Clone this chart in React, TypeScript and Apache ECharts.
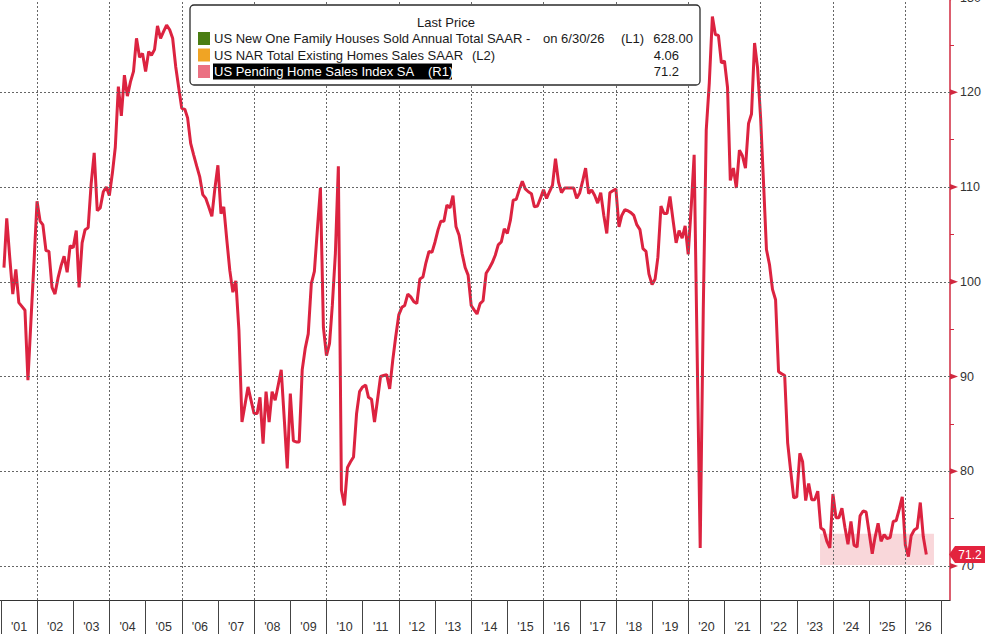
import React, { useEffect, useRef } from 'react';
import * as echarts from 'echarts';

// US Pending Home Sales Index SA, monthly
const pending2001to2005 = [
  101.5, 106.7, 102.5, 98.7, 101.3, 97.8, 97.4, 97.0, 89.6, 96.0, 102.0, 108.5,
  106.4, 106.0, 103.3, 103.2, 99.4, 98.7, 100.4, 101.7, 102.7, 101.0, 103.8, 103.6,
  105.4, 99.4, 104.1, 105.5, 105.7, 110.3, 113.6, 107.5, 107.8, 109.5, 110.0, 109.1,
  111.5, 114.2, 120.6, 117.5, 121.8, 119.6, 121.1, 122.2, 125.7, 123.7, 124.1, 122.2,
  124.3, 123.9, 124.5, 127.0, 125.7, 126.4, 127.1, 126.6, 125.7, 122.7, 120.5, 118.3,
];
const pending2006to2010 = [
  118.2, 117.3, 114.6, 113.4, 112.2, 111.1, 109.2, 108.8, 107.9, 106.9, 109.8, 112.3,
  107.2, 107.9, 104.4, 101.2, 98.9, 100.1, 94.9, 85.2, 87.0, 88.9, 87.5, 86.1,
  86.1, 87.8, 82.9, 88.4, 85.2, 88.4, 87.5, 89.1, 90.7, 85.5, 80.3, 88.2,
  83.2, 83.1, 83.1, 90.7, 93.0, 94.5, 99.8, 101.1, 105.5, 109.9, 95.2, 92.2,
  93.5, 97.5, 103.0, 112.2, 78.0, 76.4, 80.4, 81.0, 81.5, 86.1, 88.4, 88.9,
];
const pending2011to2015 = [
  89.1, 87.8, 87.6, 85.2, 87.6, 90.0, 90.1, 90.2, 88.7, 91.7, 94.2, 96.5,
  97.3, 97.5, 98.7, 98.4, 97.9, 97.7, 100.3, 100.5, 102.0, 103.2, 103.1, 104.2,
  105.5, 106.4, 106.4, 108.1, 107.8, 109.1, 105.8, 104.9, 103.0, 101.5, 100.7, 97.5,
  97.0, 96.6, 97.7, 98.0, 100.9, 101.4, 102.0, 102.8, 103.9, 104.2, 105.6, 105.1,
  106.5, 108.6, 108.7, 109.7, 110.6, 109.8, 109.5, 109.3, 107.9, 108.0, 108.8, 109.7,
];
const pending2016to2020 = [
  108.8, 109.5, 110.2, 113.0, 110.5, 109.4, 109.9, 109.9, 109.9, 109.9, 108.8, 109.4,
  110.7, 112.0, 109.3, 109.7, 109.1, 108.3, 109.4, 107.0, 105.1, 109.4, 109.6, 109.8,
  105.8, 107.0, 107.6, 107.5, 107.3, 107.0, 106.0, 105.5, 103.5, 103.2, 100.8, 99.7,
  100.3, 102.6, 108.0, 107.2, 107.2, 109.0, 106.5, 104.1, 105.4, 104.6, 105.9, 102.9,
  108.0, 113.4, 92.0, 71.9, 97.0, 116.0, 121.0, 128.0, 126.1, 126.0, 123.1, 123.3,
];
const pending2021to2026 = [
  120.5, 110.7, 112.0, 109.9, 113.9, 113.3, 112.0, 116.7, 117.7, 125.2, 122.6, 117.3,
  110.1, 103.4, 101.8, 99.2, 98.1, 90.5, 90.3, 90.1, 83.0, 80.0, 77.2, 77.3,
  81.9, 81.0, 76.9, 78.7, 77.0, 77.0, 77.9, 74.0, 73.8, 72.6, 71.9, 77.6,
  75.1, 75.1, 76.1, 74.1, 72.3, 74.7, 72.2, 72.0, 75.3, 75.8, 75.7, 73.5,
  71.3, 73.0, 74.5, 72.6, 73.3, 72.9, 73.0, 74.7, 74.8, 76.0, 77.3, 72.2,
  71.0, 73.2, 73.8, 74.0, 76.7, 73.1, 71.2,
];

const tickYears = [
  2001, 2002, 2003, 2004, 2005, 2006, 2007, 2008, 2009, 2010, 2011, 2012, 2013, 2014,
  2015, 2016, 2017, 2018, 2019, 2020, 2021, 2022, 2023, 2024, 2025, 2026, 2027,
];
const labelYears = [
  2001, 2002, 2003, 2004, 2005, 2006, 2007, 2008, 2009, 2010, 2011, 2012, 2013, 2014,
  2015, 2016, 2017, 2018, 2019, 2020, 2021, 2022, 2023, 2024, 2025, 2026,
];
const gridYears = [2002, 2004, 2006, 2008, 2010, 2012, 2014, 2016, 2018, 2020, 2022, 2024, 2026];
const yGridValues = [70, 80, 90, 100, 110, 120];
const yLabelValues = [70, 80, 90, 100, 110, 120];
const yTopLabel = 130;
const yTickValues = [70, 75, 80, 85, 90, 95, 100, 105, 110, 115, 120, 125];

const legendTitle = 'Last Price';
const legendNames = [
  'US New One Family Houses Sold Annual Total SAAR -',
  'US NAR Total Existing Homes Sales SAAR',
  'US Pending Home Sales Index SA',
];
const legendAxes = ['(L1)', '(L2)', '(R1)'];
const legendValues = ['628.00', '4.06', '71.2'];
const legendColors = ['#4a7d12', '#f0a424', '#eb7082'];
const legendDateNote = 'on 6/30/26';
const lastValue = 71.2;
const bandLow = 70.1;
const bandHigh = 73.4;

const LINE_RED = '#dc2340';
const AXIS_RED = '#d0283f';
const FONT = '"Liberation Sans", Arial, sans-serif';

export default function App() {
  const ref = useRef<HTMLDivElement>(null);

  useEffect(() => {
    const el = ref.current;
    if (!el) return;
    const chart = echarts.init(el, null, { renderer: 'svg' });

    const values = [
      ...pending2001to2005,
      ...pending2006to2010,
      ...pending2011to2015,
      ...pending2016to2020,
      ...pending2021to2026,
    ];
    const seriesData = values.map((v, i) => [Date.UTC(2001, i + 1, 0), v]);
    const xMin = Date.UTC(2000, 11, 22);
    const xMax = Date.UTC(2027, 2, 27);

    const option: any = {
      animation: false,
      backgroundColor: '#ffffff',
      grid: { left: 0, right: 35, top: 0, bottom: 34, containLabel: false },
      xAxis: {
        type: 'value',
        min: xMin,
        max: xMax,
        axisLine: { show: true, lineStyle: { color: '#333', width: 1 } },
        axisTick: {
          show: true,
          customValues: tickYears.map((y) => Date.UTC(y, 0, 1)),
          length: 34,
          lineStyle: { color: '#444', width: 1 },
        },
        axisLabel: {
          show: true,
          customValues: labelYears.map((y) => Date.UTC(y, 6, 2)),
          formatter: (v: number) => "'" + String(new Date(v).getUTCFullYear()).slice(2),
          color: '#333',
          fontFamily: FONT,
          fontSize: 12.5,
          margin: 20,
        },
        splitLine: { show: false },
      },
      yAxis: {
        type: 'value',
        position: 'right',
        min: 66.41,
        max: 129.74,
        axisLine: { show: true, lineStyle: { color: AXIS_RED, width: 1.5 } },
        axisTick: {
          show: true,
          customValues: yTickValues,
          length: 4,
          lineStyle: { color: AXIS_RED, width: 1 },
        },
        axisLabel: {
          show: true,
          customValues: yLabelValues,
          color: '#333',
          fontFamily: FONT,
          fontSize: 12.5,
          margin: 10,
        },
        splitLine: { show: false },
      },
      series: [
        {
          type: 'line',
          data: seriesData,
          z: 1,
          silent: true,
          showSymbol: false,
          symbol: 'none',
          lineStyle: { opacity: 0 },
          markLine: {
            silent: true,
            symbol: 'none',
            label: { show: false },
            emphasis: { disabled: true },
            lineStyle: { type: [2, 2], color: '#666', width: 1 },
            data: [
              ...gridYears.map((y) => ({ xAxis: Date.UTC(y, 0, 1) })),
              ...yGridValues.map((v) => ({ yAxis: v })),
            ],
          },
          markArea: {
            silent: true,
            itemStyle: { color: '#f9d7da' },
            emphasis: { disabled: true },
            data: [
              [
                { xAxis: Date.UTC(2023, 7, 23), yAxis: bandLow },
                { xAxis: Date.UTC(2026, 9, 16), yAxis: bandHigh },
              ],
            ],
          },
        },
        {
          type: 'line',
          name: legendNames[2],
          data: seriesData,
          z: 3,
          showSymbol: false,
          symbol: 'none',
          lineStyle: { color: LINE_RED, width: 3 },
        },
      ],
    };

    chart.setOption(option);

    const ax = chart.convertToPixel({ xAxisIndex: 0 }, xMax) as number;
    const py = (v: number) => chart.convertToPixel({ yAxisIndex: 0 }, v) as number;

    const elements: any[] = [];

    [...yLabelValues, yTopLabel].forEach((v) => {
      const y = py(v);
      elements.push({
        type: 'polygon',
        z: 100,
        silent: true,
        shape: { points: [[ax, y - 3], [ax + 8, y], [ax, y + 3]] },
        style: { fill: AXIS_RED },
      });
    });
    // top label, partly outside the picture as in the original
    elements.push({
      type: 'text',
      z: 100,
      silent: true,
      style: {
        text: String(yTopLabel),
        x: ax + 10,
        y: py(yTopLabel),
        fill: '#333',
        font: '12.5px ' + FONT,
        textAlign: 'left',
        textVerticalAlign: 'middle',
      },
    });

    const yl = py(lastValue);
    elements.push({
      type: 'polygon',
      z: 101,
      silent: true,
      shape: {
        points: [[ax - 1, yl], [ax + 5, yl - 8.5], [985, yl - 8.5], [985, yl + 8.5], [ax + 5, yl + 8.5]],
      },
      style: { fill: '#e3233e' },
    });
    elements.push({
      type: 'text',
      z: 102,
      silent: true,
      style: {
        text: String(lastValue),
        x: (ax + 5 + 985) / 2,
        y: yl,
        fill: '#ffffff',
        font: '12px ' + FONT,
        textAlign: 'center',
        textVerticalAlign: 'middle',
      },
    });

    const lx = 190;
    const ly = 5;
    const lw = 510;
    const lh = 80;
    elements.push({
      type: 'rect',
      z: 100,
      silent: true,
      shape: { x: lx, y: ly, width: lw, height: lh, r: 4 },
      style: { fill: '#ffffff', stroke: '#2b2b2b', lineWidth: 1.3 },
    });
    const txt = (text: string, x: number, y: number, align: string, fill = '#1a1a1a', z = 102) => ({
      type: 'text',
      z,
      silent: true,
      style: {
        text,
        x,
        y,
        fill,
        font: '13px ' + FONT,
        textAlign: align,
        textVerticalAlign: 'middle',
      },
    });
    elements.push(txt(legendTitle, 446, 22, 'center'));
    const rowY = [38.5, 55, 71.5];
    legendNames.forEach((name, i) => {
      elements.push({
        type: 'rect',
        z: 101,
        silent: true,
        shape: { x: 198, y: rowY[i] - 6.5, width: 12, height: 13 },
        style: { fill: legendColors[i] },
      });
    });
    elements.push({
      type: 'rect',
      z: 101,
      silent: true,
      shape: { x: 213, y: rowY[2] - 8, width: 239, height: 16 },
      style: { fill: '#000000' },
    });
    elements.push(txt(legendNames[0], 214, rowY[0], 'left'));
    elements.push(txt(legendDateNote, 543, rowY[0], 'left'));
    elements.push(txt(legendAxes[0], 621, rowY[0], 'left'));
    elements.push(txt(legendValues[0], 693, rowY[0], 'right'));
    elements.push(txt(legendNames[1], 214, rowY[1], 'left'));
    elements.push(txt(legendAxes[1], 472, rowY[1], 'left'));
    elements.push(txt(legendValues[1], 679, rowY[1], 'right'));
    elements.push(txt(legendNames[2], 214, rowY[2], 'left', '#ffffff'));
    elements.push(txt(legendAxes[2], 428, rowY[2], 'left', '#ffffff'));
    elements.push(txt(legendValues[2], 679, rowY[2], 'right'));

    chart.setOption({ graphic: { elements } });

    return () => {
      chart.dispose();
    };
  }, []);

  return (
    <div
      ref={ref}
      style={{ position: 'absolute', left: 0, top: 0, width: 985, height: 634, background: '#fff' }}
    />
  );
}
